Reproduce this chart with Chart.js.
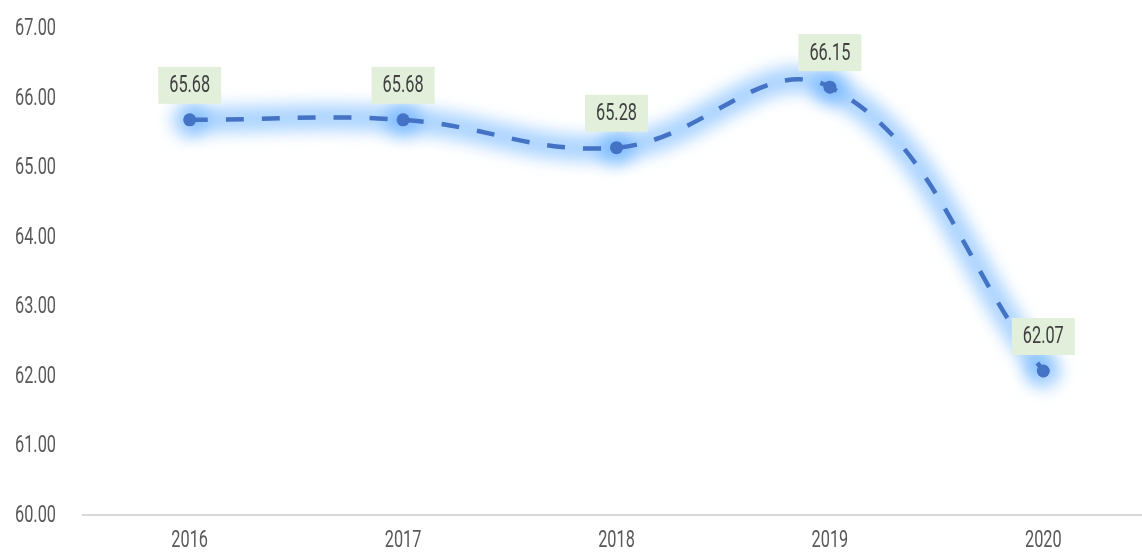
<!DOCTYPE html>
<html>
<head>
<meta charset="utf-8">
<script src="https://cdn.jsdelivr.net/npm/chart.js@4"></script>
<style>
    html, body { margin: 0; padding: 0; background: #fff; overflow: hidden; }
    #lineChart { display: block; }
</style>
</head>
<body>
<canvas id="lineChart" width="1150" height="554"></canvas>
<script>
const years = ['2016', '2017', '2018', '2019', '2020'];
const values = [65.68, 65.68, 65.28, 66.15, 62.07];
const yTicks = [60, 61, 62, 63, 64, 65, 66, 67];

const fontFamily = 'Roboto, "DejaVu Sans", sans-serif';
const narrow = 0.68;  // the original font is a tall condensed face

function narrowText(ctx, text, x, y, align) {
    ctx.save();
    ctx.translate(x, y);
    ctx.scale(narrow, 1);
    ctx.textAlign = align;
    ctx.fillText(text, 0, 0);
    ctx.restore();
}

// soft blue glow under the dashed line
const glowPlugin = {
    id: 'glow',
    beforeDatasetDraw(chart, args) {
        if (args.index !== 1) return;
        chart.ctx.save();
        chart.ctx.filter = 'blur(8px)';
    },
    afterDatasetDraw(chart, args) {
        if (args.index !== 1) return;
        chart.ctx.restore();
    }
};

// tick texts and value boxes, drawn narrow at the scale positions
const textPlugin = {
    id: 'narrowTexts',
    afterDraw(chart) {
        const ctx = chart.ctx;
        const xs = chart.scales.x;
        const ys = chart.scales.y;
        ctx.save();
        ctx.font = '24px ' + fontFamily;
        ctx.textBaseline = 'middle';
        ctx.fillStyle = '#595959';
        ys.ticks.forEach(function (t, i) {
            narrowText(ctx, Number(t.value).toFixed(2), 56, ys.getPixelForTick(i) + 1, 'right');
        });
        xs.ticks.forEach(function (t, i) {
            narrowText(ctx, years[t.value], xs.getPixelForTick(i), 541, 'center');
        });

        const meta = chart.getDatasetMeta(0);
        meta.data.forEach(function (pt, i) {
            let text = values[i].toFixed(2);
            let w = ctx.measureText(text).width * narrow + 22;
            let h = 37;
            let bottom = pt.y - 16;
            ctx.fillStyle = '#E2EFDA';
            ctx.fillRect(pt.x - w / 2, bottom - h, w, h);
            ctx.fillStyle = '#404040';
            narrowText(ctx, text, pt.x, bottom - h / 2 + 1, 'center');
        });
        ctx.restore();
    }
};

const ctx = document.getElementById('lineChart');

new Chart(ctx, {
    type: 'line',
    data: {
        labels: years,
        datasets: [{
            data: values,
            borderColor: '#4472C4',
            backgroundColor: '#4472C4',
            borderWidth: 4.5,
            borderDash: [18, 18],
            tension: 0.4,
            pointRadius: 6.5,
            pointBorderWidth: 0,
            pointBackgroundColor: '#4472C4'
        }, {
            data: values,
            borderColor: 'rgba(70,160,255,0.45)',
            borderWidth: 26,
            tension: 0.4,
            pointRadius: 18,
            pointBorderWidth: 0,
            pointBackgroundColor: 'rgba(70,160,255,0.45)'
        }]
    },
    options: {
        responsive: false,
        animation: false,
        layout: { autoPadding: false, padding: { top: 28, left: 0, right: 0, bottom: 0 } },
        plugins: {
            legend: { display: false },
            tooltip: { enabled: false }
        },
        scales: {
            x: {
                offset: true,
                grid: { display: false, drawTicks: false },
                border: { display: true, color: '#D9D9D9', width: 2 },
                ticks: {
                    color: 'rgba(0,0,0,0)',
                    padding: 0,
                    font: { family: fontFamily, size: 6 }
                },
                afterFit: function (scale) { scale.height = 39; }
            },
            y: {
                min: 60,
                max: 67,
                afterBuildTicks: function (scale) {
                    scale.ticks = yTicks.map(v => ({ value: v }));
                },
                grid: { display: false, drawTicks: false },
                border: { display: false },
                ticks: {
                    color: 'rgba(0,0,0,0)',
                    padding: 0,
                    font: { family: fontFamily, size: 6 },
                    callback: function (v) { return Number(v).toFixed(2); }
                },
                afterFit: function (scale) { scale.width = 83; }
            }
        }
    },
    plugins: [glowPlugin, textPlugin]
});
</script>
</body>
</html>
